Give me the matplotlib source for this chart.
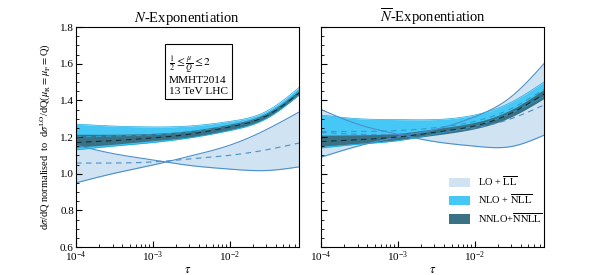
import numpy as np
import matplotlib
matplotlib.use("Agg")
import matplotlib.pyplot as plt
from matplotlib.patches import Patch

plt.rcParams['font.family'] = ['Liberation Serif', 'DejaVu Serif']
plt.rcParams['mathtext.fontset'] = 'stix'

tau = [1e-4, 3e-4, 1e-3, 3e-3, 1e-2, 3e-2, 0.08]

# N-exponentiation
n_lo_a = [0.95, 1.00, 1.047, 1.095, 1.155, 1.24, 1.336]
n_lo_b = [1.156, 1.11, 1.075, 1.045, 1.025, 1.017, 1.037]
n_lo_c = [1.058, 1.058, 1.064, 1.08, 1.10, 1.13, 1.167]
n_nlo_hi = [1.27, 1.26, 1.255, 1.26, 1.285, 1.34, 1.47]
n_nlo_lo = [1.13, 1.15, 1.17, 1.195, 1.235, 1.30, 1.43]
n_nlo_c = [1.20, 1.205, 1.212, 1.228, 1.26, 1.32, 1.45]
n_nnlo_hi = [1.215, 1.215, 1.22, 1.235, 1.27, 1.33, 1.455]
n_nnlo_lo = [1.145, 1.16, 1.18, 1.20, 1.24, 1.305, 1.43]
n_nnlo_c = [1.17, 1.18, 1.195, 1.215, 1.255, 1.315, 1.44]

# Nbar-exponentiation
b_lo_a = [1.09, 1.15, 1.20, 1.24, 1.31, 1.42, 1.60]
b_lo_b = [1.35, 1.27, 1.215, 1.175, 1.15, 1.148, 1.21]
b_lo_c = [1.225, 1.215, 1.215, 1.225, 1.25, 1.30, 1.375]
b_nlo_hi = [1.32, 1.30, 1.295, 1.295, 1.32, 1.39, 1.50]
b_nlo_lo = [1.14, 1.16, 1.18, 1.215, 1.26, 1.33, 1.42]
b_nlo_c = [1.23, 1.23, 1.235, 1.25, 1.285, 1.355, 1.46]
b_nnlo_hi = [1.21, 1.212, 1.22, 1.245, 1.28, 1.35, 1.46]
b_nnlo_lo = [1.15, 1.165, 1.185, 1.21, 1.245, 1.31, 1.41]
b_nnlo_c = [1.175, 1.185, 1.20, 1.225, 1.26, 1.33, 1.435]

c_lo, c_lo_edge = '#cfe3f2', '#4b8fcc'
c_nlo, c_nlo_edge = '#45c8f5', '#1aa8e0'
c_nnlo = '#3a7184'

xs = np.logspace(-4, np.log10(0.08), 300)


def smooth(vals):
    # natural cubic spline through the read-off nodes, in log(tau)
    x = np.log10(tau)
    y = np.asarray(vals, float)
    n = len(x)
    h = np.diff(x)
    A = np.zeros((n, n))
    r = np.zeros(n)
    A[0, 0] = A[-1, -1] = 1.0
    for i in range(1, n - 1):
        A[i, i - 1] = h[i - 1]
        A[i, i] = 2 * (h[i - 1] + h[i])
        A[i, i + 1] = h[i]
        r[i] = 3 * ((y[i + 1] - y[i]) / h[i] - (y[i] - y[i - 1]) / h[i - 1])
    c = np.linalg.solve(A, r)
    b = (y[1:] - y[:-1]) / h - h * (2 * c[:-1] + c[1:]) / 3
    d = (c[1:] - c[:-1]) / (3 * h)
    xq = np.log10(xs)
    k = np.clip(np.searchsorted(x, xq) - 1, 0, n - 2)
    t = xq - x[k]
    return y[k] + b[k] * t + c[k] * t ** 2 + d[k] * t ** 3


def draw(ax, lo, nlo, nnlo):
    a, b, c = [smooth(v) for v in lo]
    ax.fill_between(xs, a, b, color=c_lo, lw=0)
    ax.plot(xs, a, color=c_lo_edge, lw=0.8)
    ax.plot(xs, b, color=c_lo_edge, lw=0.8)
    ax.plot(xs, c, color=c_lo_edge, lw=0.8, ls=(0, (5, 4)))

    hi, low, c = [smooth(v) for v in nlo]
    ax.fill_between(xs, low, hi, color=c_nlo, lw=0)
    ax.plot(xs, hi, color=c_nlo_edge, lw=0.5)
    ax.plot(xs, low, color=c_nlo_edge, lw=0.5)
    ax.plot(xs, c, color='#2a9fd6', lw=0.8, ls=(0, (5, 4)))

    hi, low, c = [smooth(v) for v in nnlo]
    ax.fill_between(xs, low, hi, color=c_nnlo, lw=0)
    ax.plot(xs, c, color='#10303a', lw=0.8, ls=(0, (5, 4)))

    ax.set_xscale('log')
    ax.set_xlim(1e-4, 0.08)
    ax.set_ylim(0.6, 1.8)
    ax.set_yticks([0.6, 0.8, 1.0, 1.2, 1.4, 1.6, 1.8])
    ax.set_yticks(np.arange(0.6, 1.81, 0.05), minor=True)
    ax.tick_params(which='both', direction='in', labelsize=8, pad=1.5)
    ax.tick_params(which='major', length=4)
    ax.tick_params(which='minor', length=2)
    ax.set_xlabel(r'$\tau$', fontsize=9, labelpad=0)


fig = plt.figure(figsize=(6.05, 2.75), dpi=100)
ax1 = fig.add_axes([0.1256, 0.1018, 0.3686, 0.80])
ax2 = fig.add_axes([0.5306, 0.1018, 0.3686, 0.80])

draw(ax1, (n_lo_a, n_lo_b, n_lo_c), (n_nlo_hi, n_nlo_lo, n_nlo_c),
     (n_nnlo_hi, n_nnlo_lo, n_nnlo_c))
draw(ax2, (b_lo_a, b_lo_b, b_lo_c), (b_nlo_hi, b_nlo_lo, b_nlo_c),
     (b_nnlo_hi, b_nnlo_lo, b_nnlo_c))

ax1.set_title(r'$N$-Exponentiation', fontsize=10.5, pad=3)
ax2.set_title(r'$\overline{N}$-Exponentiation', fontsize=10.5, pad=3)
ax2.set_yticklabels([])
ax1.set_ylabel(r'd$\sigma$/dQ normalised  to  d$\sigma^{\rm LO}$/dQ($\mu_{\rm R}=\mu_{\rm F}=$Q)',
               fontsize=7.5, labelpad=5)

ax1.text(0.415, 0.875,
         r'$\frac{1}{2}\leq\frac{\mu}{Q}\leq 2$' + '\nMMHT2014\n13 TeV LHC',
         transform=ax1.transAxes, fontsize=8.2, va='top', ha='left',
         linespacing=1.15,
         bbox=dict(boxstyle='square,pad=0.35', fc='white', ec='black', lw=0.8))

handles = [Patch(fc=c_lo, ec='none'), Patch(fc=c_nlo, ec='none'),
           Patch(fc=c_nnlo, ec='none')]
labels = [r'LO + $\overline{\rm LL}$', r'NLO + $\overline{\rm NLL}$',
          r'NNLO+$\overline{\rm NNLL}$']
ax2.legend(handles, labels, loc='upper left', bbox_to_anchor=(0.55, 0.355),
           frameon=False, fontsize=7.5, handlelength=2.0, handleheight=1.0,
           labelspacing=0.45, handletextpad=0.8, borderpad=0)

fig.savefig('out.png', dpi=100)
